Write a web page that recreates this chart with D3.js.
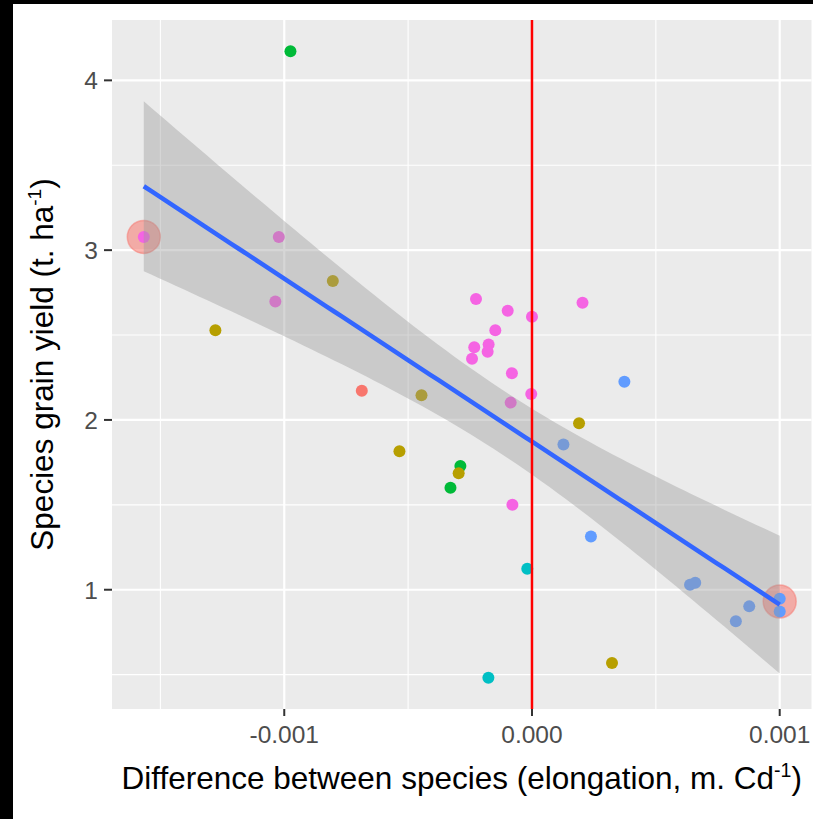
<!DOCTYPE html>
<html>
<head>
<meta charset="utf-8">
<script src="https://cdn.jsdelivr.net/npm/d3@7"></script>
<style>
  body { margin: 0; background: #000; }
  svg { display: block; }
</style>
</head>
<body>
<svg></svg>
<script>
var width = 813;
var height = 819;
var margin = {'top': 20, 'left': 112, 'right': 1.5, 'bottom': 110}

// elongation difference, grain yield, species group (colour index)
const xVals = [-0.000975, -0.001567, -0.001022, -0.000804, -0.001036, -0.001278, -0.000226, -0.000098,
  0.000000, 0.000204, -0.000148, -0.000233, -0.000175, -0.000179, -0.000242, -0.000081,
  -0.000003, -0.000086, -0.000446, -0.000687, -0.000535, 0.000190, 0.000373, 0.000127,
  -0.000289, -0.000296, -0.000329, -0.000079, 0.000238, -0.000019, 0.000638, 0.000659,
  0.000877, 0.000823, 0.001000, 0.001000, 0.000323, -0.000176]
const yVals = [4.171, 3.078, 3.078, 2.818, 2.698, 2.528, 2.712, 2.643,
  2.608, 2.690, 2.528, 2.428, 2.445, 2.402, 2.361, 2.275,
  2.153, 2.102, 2.145, 2.172, 1.815, 1.981, 2.225, 1.855,
  1.729, 1.686, 1.600, 1.500, 1.314, 1.124, 1.029, 1.041,
  0.902, 0.814, 0.947, 0.872, 0.569, 0.482]
const groups = [2, 5, 5, 1, 5, 1, 5, 5,
  5, 5, 5, 5, 5, 5, 5, 5,
  5, 5, 1, 0, 1, 1, 4, 4,
  2, 1, 2, 5, 4, 3, 4, 4,
  4, 4, 4, 4, 1, 3]
const palette = ['#F8766D', '#B79F00', '#00BA38', '#00BFC4', '#619CFF', '#F564E3']

// highlighted extremes
const highX = [-0.001567, 0.001000]
const highY = [3.078, 0.931]

const xMajor = [-0.001, 0, 0.001]
const xTickLabels = ['-0.001', '0.000', '0.001']
const xMinor = [-0.0015, -0.0005, 0.0005, 0.0015]
const yMajor = [1, 2, 3, 4]
const yMinor = [0.5, 1.5, 2.5, 3.5]

const tCrit = 2.028; // t(0.975, 36 df)

const pw = width - margin.left - margin.right;
const ph = height - margin.top - margin.bottom;

const xExt = d3.extent(xVals), yExt = d3.extent(yVals);
const xPad = (xExt[1] - xExt[0]) * 0.05, yPad = (yExt[1] - yExt[0]) * 0.05;

var x = d3.scaleLinear()
    .domain([xExt[0] - xPad, xExt[1] + xPad])
    .range([margin.left, margin.left + pw])

var y = d3.scaleLinear()
    .domain([yExt[0] - yPad, yExt[1] + yPad])
    .range([margin.top + ph, margin.top])

// linear model + 95% confidence band
const n = xVals.length;
const xbar = d3.mean(xVals), ybar = d3.mean(yVals);
let sxx = 0, sxy = 0;
xVals.forEach((v, i) => { sxx += (v - xbar) ** 2; sxy += (v - xbar) * (yVals[i] - ybar); });
const slope = sxy / sxx, icpt = ybar - slope * xbar;
let sse = 0;
xVals.forEach((v, i) => { sse += (yVals[i] - icpt - slope * v) ** 2; });
const sres = Math.sqrt(sse / (n - 2));
const fit = d3.range(81).map(k => {
  const xv = xExt[0] + (xExt[1] - xExt[0]) * k / 80;
  const yv = icpt + slope * xv;
  const se = sres * Math.sqrt(1 / n + (xv - xbar) ** 2 / sxx);
  return {x: xv, y: yv, lo: yv - tCrit * se, hi: yv + tCrit * se};
});

const svg = d3.select('svg')
    .attr('width', width)
    .attr('height', height)
    .attr('font-family', '"Liberation Sans", Arial, sans-serif');

svg.append('rect').attr('width', width).attr('height', height).attr('fill', 'white');
svg.append('rect').attr('width', width).attr('height', 4).attr('fill', 'black');
svg.append('rect').attr('width', 13).attr('height', height).attr('fill', 'black');

// panel
svg.append('rect')
    .attr('x', margin.left).attr('y', margin.top)
    .attr('width', pw).attr('height', ph)
    .attr('fill', '#EBEBEB');

const grid = svg.append('g');
grid.selectAll('.xmin').data(xMinor).join('line')
    .attr('x1', x).attr('x2', x).attr('y1', margin.top).attr('y2', margin.top + ph)
    .attr('stroke', 'white').attr('stroke-width', 1.1);
grid.selectAll('.ymin').data(yMinor).join('line')
    .attr('y1', y).attr('y2', y).attr('x1', margin.left).attr('x2', margin.left + pw)
    .attr('stroke', 'white').attr('stroke-width', 1.1);
grid.selectAll('.xmaj').data(xMajor).join('line')
    .attr('x1', x).attr('x2', x).attr('y1', margin.top).attr('y2', margin.top + ph)
    .attr('stroke', 'white').attr('stroke-width', 2.2);
grid.selectAll('.ymaj').data(yMajor).join('line')
    .attr('y1', y).attr('y2', y).attr('x1', margin.left).attr('x2', margin.left + pw)
    .attr('stroke', 'white').attr('stroke-width', 2.2);

svg.append('clipPath').attr('id', 'panel')
  .append('rect').attr('x', margin.left).attr('y', margin.top).attr('width', pw).attr('height', ph);

const plot = svg.append('g').attr('clip-path', 'url(#panel)');

plot.selectAll('.hi').data(highX).join('circle')
    .attr('cx', d => x(d))
    .attr('cy', (d, i) => y(highY[i]))
    .attr('r', 16.5)
    .attr('fill', '#F8766D')
    .attr('fill-opacity', 0.55)
    .attr('stroke', '#F8766D')
    .attr('stroke-opacity', 0.5)
    .attr('stroke-width', 1.5);

plot.selectAll('.pt').data(xVals).join('circle')
    .attr('cx', d => x(d))
    .attr('cy', (d, i) => y(yVals[i]))
    .attr('r', 6)
    .attr('fill', (d, i) => palette[groups[i]]);

plot.append('path')
    .datum(fit)
    .attr('d', d3.area().x(d => x(d.x)).y0(d => y(d.lo)).y1(d => y(d.hi)))
    .attr('fill', '#999999')
    .attr('fill-opacity', 0.4);

plot.append('path')
    .datum(fit)
    .attr('d', d3.line().x(d => x(d.x)).y(d => y(d.y)))
    .attr('fill', 'none')
    .attr('stroke', '#3366FF')
    .attr('stroke-width', 4.5);

plot.append('line')
    .attr('x1', x(0)).attr('x2', x(0))
    .attr('y1', margin.top).attr('y2', margin.top + ph)
    .attr('stroke', '#FF0000').attr('stroke-width', 2.5);

// axes
const xAxis = svg.append('g').attr('transform', `translate(0,${margin.top + ph})`);
xAxis.selectAll('line').data(xMajor).join('line')
    .attr('x1', x).attr('x2', x).attr('y1', 0).attr('y2', 7)
    .attr('stroke', '#333333').attr('stroke-width', 2);
xAxis.selectAll('text').data(xMajor).join('text')
    .attr('x', x).attr('y', 34)
    .attr('text-anchor', 'middle')
    .attr('font-size', 24.5)
    .attr('fill', '#4D4D4D')
    .text((d, i) => xTickLabels[i]);

const yAxis = svg.append('g');
yAxis.selectAll('line').data(yMajor).join('line')
    .attr('y1', y).attr('y2', y).attr('x1', margin.left - 8).attr('x2', margin.left)
    .attr('stroke', '#333333').attr('stroke-width', 2);
yAxis.selectAll('text').data(yMajor).join('text')
    .attr('y', y).attr('x', margin.left - 14)
    .attr('dy', '0.36em')
    .attr('text-anchor', 'end')
    .attr('font-size', 24.5)
    .attr('fill', '#4D4D4D')
    .text(d => d);

const xt = svg.append('text')
    .attr('x', margin.left + pw / 2)
    .attr('y', 789)
    .attr('text-anchor', 'middle')
    .attr('font-size', 31.5)
    .attr('fill', 'black');
xt.append('tspan').text('Difference between species (elongation, m. Cd');
xt.append('tspan').attr('font-size', 19.5).attr('dy', -12).text('-1');
xt.append('tspan').attr('dy', 12).text(')');

const yt = svg.append('text')
    .attr('transform', `translate(53,${margin.top + ph / 2}) rotate(-90)`)
    .attr('text-anchor', 'middle')
    .attr('font-size', 31.5)
    .attr('fill', 'black');
yt.append('tspan').text('Species grain yield (t. ha');
yt.append('tspan').attr('font-size', 19).attr('dy', -12).text('-1');
yt.append('tspan').attr('dy', 12).text(')');
</script>
</body>
</html>
